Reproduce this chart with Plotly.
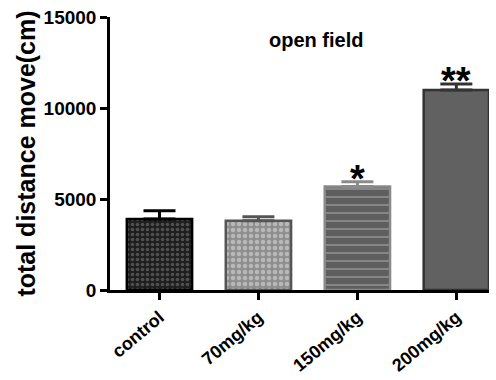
import plotly.graph_objects as go

# Open-field test: mean total distance moved per dose group
groups = ["control", "70mg/kg", "150mg/kg", "200mg/kg"]
distance = [3900, 3800, 5680, 10990]
sem = [450, 220, 270, 330]
stars = ["", "", "*", "**"]

# per-group styling
fills = ["#1e1e1e", "#8e8e8e", "#5e5e5e", "#616161"]
pattern_shapes = [".", ".", "-", ""]
pattern_fg = ["#505050", "#b8b8b8", "#8c8c8c", "#616161"]
pattern_size = [5, 6, 8, 8]
pattern_solid = [0.4, 0.45, 0.22, 0.2]
edges = ["#000000", "#555555", "#8a8a8a", "#333333"]

FONT = "Liberation Sans, Arial, sans-serif"

fig = go.Figure()
for i, g in enumerate(groups):
    fig.add_trace(go.Bar(
        x=[g], y=[distance[i]],
        width=0.66,
        marker=dict(
            color=fills[i],
            line=dict(color=edges[i], width=2.5),
            pattern=dict(shape=pattern_shapes[i], fgcolor=pattern_fg[i],
                         bgcolor=fills[i], size=pattern_size[i],
                         solidity=pattern_solid[i], fillmode="replace"),
        ),
        error_y=dict(type="data", symmetric=False, array=[sem[i]],
                     arrayminus=[0], color=edges[i], thickness=3, width=16),
        showlegend=False,
        hoverinfo="skip",
    ))

# significance marks above the error caps
for i, g in enumerate(groups):
    if stars[i]:
        fig.add_annotation(x=g, y=distance[i] + sem[i], xref="x", yref="y",
                           text="<b>" + stars[i] + "</b>", showarrow=False,
                           yanchor="middle", yshift=3,
                           font=dict(family=FONT, size=38, color="black"))

fig.add_annotation(text="<b>open field</b>", x=0.5435, y=0.916,
                   xref="paper", yref="paper", showarrow=False,
                   xanchor="center", yanchor="middle",
                   font=dict(family=FONT, size=20, color="black"))

fig.add_annotation(text="<b>total distance move(cm)</b>", textangle=-90,
                   x=-0.224, y=0.5, xref="paper", yref="paper",
                   showarrow=False, xanchor="center", yanchor="middle",
                   font=dict(family=FONT, size=25, color="black"))

fig.update_layout(
    width=496, height=380,
    margin=dict(l=110, r=7, t=17, b=90),
    plot_bgcolor="white", paper_bgcolor="white",
    barmode="overlay",
    font=dict(family=FONT, color="black"),
    xaxis=dict(
        type="category", categoryorder="array", categoryarray=groups,
        range=[-0.5, 3.33], automargin=False,
        showline=True, linecolor="black", linewidth=2.5,
        ticks="outside", ticklen=7, tickwidth=2.5, tickcolor="black",
        tickangle=-40,
        tickfont=dict(family=FONT, size=18, color="black", weight="bold"),
        showgrid=False, zeroline=False,
    ),
    yaxis=dict(
        range=[0, 15000], tickvals=[0, 5000, 10000, 15000],
        ticktext=["0", "5000", "10000", "15000"], automargin=False,
        showline=True, linecolor="black", linewidth=2.5,
        ticks="outside", ticklen=7, tickwidth=2.5, tickcolor="black",
        tickfont=dict(family=FONT, size=19, color="black", weight="bold"),
        showgrid=False, zeroline=False,
    ),
)

fig.write_html("out.html")
